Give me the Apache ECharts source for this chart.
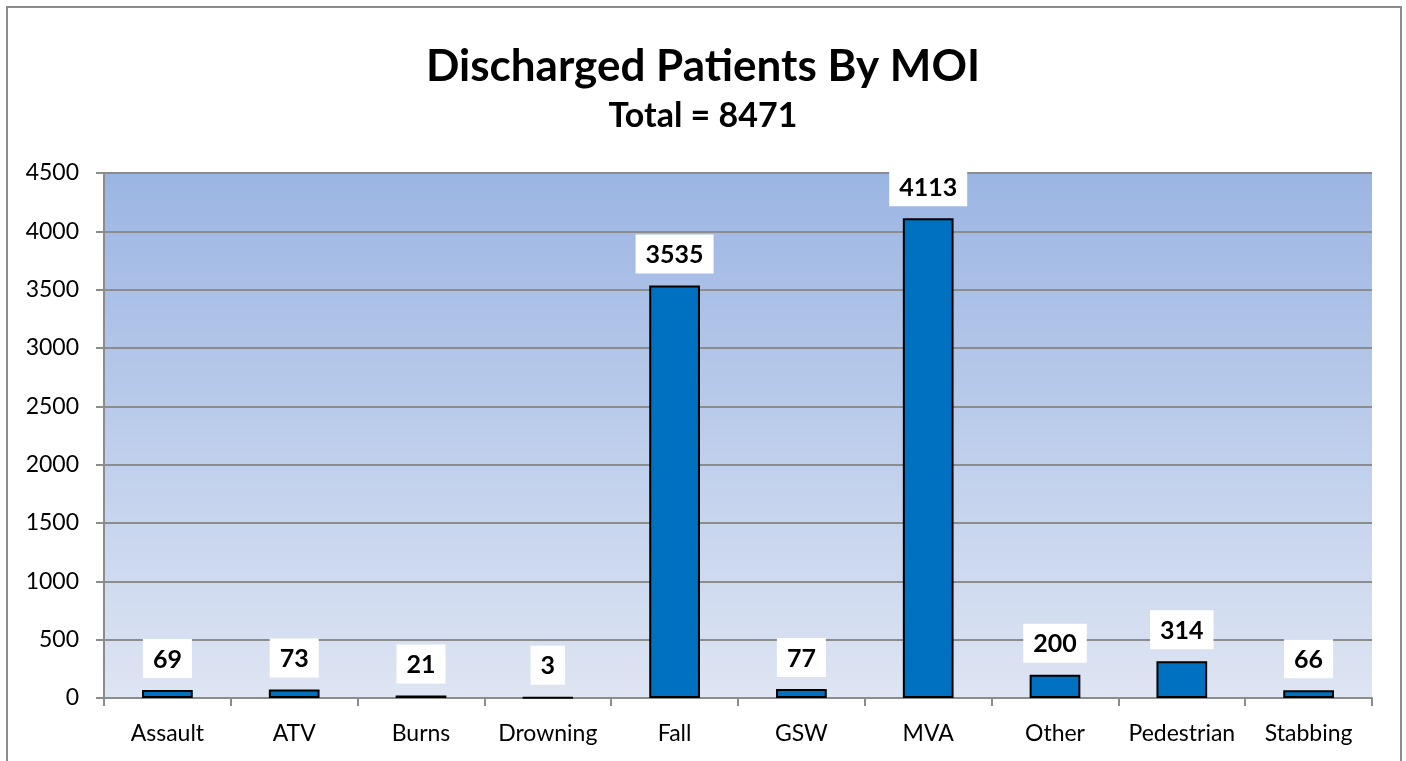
<!DOCTYPE html>
<html>
<head>
<meta charset="utf-8">
<script src="https://cdn.jsdelivr.net/npm/echarts@6/dist/echarts.min.js"></script>
<style>
  html, body { margin: 0; padding: 0; background: #fff; }
  #frame { position: absolute; left: 6px; top: 6px; width: 1396px; height: 760px;
           border: 2px solid #8c8c8c; border-bottom: none; box-sizing: border-box; }
  #chart { width: 1406px; height: 761px; }
</style>
</head>
<body>
<div id="frame"></div>
<div id="chart"></div>
<script>
const categories = ['Assault', 'ATV', 'Burns', 'Drowning', 'Fall', 'GSW', 'MVA', 'Other', 'Pedestrian', 'Stabbing'];
const patients = [69, 73, 21, 3, 3535, 77, 4113, 200, 314, 66];
const total = 8471;

let chartDom = document.getElementById('chart');
let myChart = echarts.init(chartDom);

let option = {
    animation: false,
    textStyle: {fontFamily: 'Lato'},
    title: {
        text: 'Discharged Patients By MOI',
        subtext: 'Total = ' + total,
        left: 'center',
        top: 40,
        itemGap: 10,
        textStyle: {fontSize: 44, fontWeight: 'bold', color: '#000', fontFamily: 'Lato'},
        subtextStyle: {fontSize: 34, fontWeight: 'bold', color: '#000', fontFamily: 'Lato'}
    },
    grid: {
        left: 104, right: 34, top: 173, bottom: 63,
        show: true,
        borderWidth: 0,
        backgroundColor: new echarts.graphic.LinearGradient(0, 0, 0, 1, [
            {offset: 0, color: '#9bb5e3'},
            {offset: 1, color: '#dee5f3'}
        ])
    },
    xAxis: {
        type: 'category',
        data: categories,
        axisLine: {lineStyle: {color: '#8c8c8c', width: 2}},
        axisTick: {show: true, length: 8, lineStyle: {color: '#8c8c8c', width: 2}},
        axisLabel: {fontSize: 23, color: '#000', margin: 24, interval: 0}
    },
    yAxis: {
        type: 'value',
        min: 0,
        max: 4500,
        interval: 500,
        axisLine: {show: true, lineStyle: {color: '#8c8c8c', width: 2}},
        axisTick: {show: true, length: 8, lineStyle: {color: '#8c8c8c', width: 2}},
        axisLabel: {fontSize: 23, color: '#000', margin: 25, formatter: (v) => String(v)},
        splitLine: {lineStyle: {color: '#8c8c8c', width: 2}}
    },
    series: [
        {
            type: 'bar',
            data: patients,
            barWidth: '40%',
            itemStyle: {color: '#0070c0', borderColor: '#000', borderWidth: 2},
            label: {
                show: true,
                position: 'top',
                distance: 12,
                fontSize: 25,
                fontWeight: 'bold',
                color: '#000',
                backgroundColor: '#fff',
                padding: [8, 10, 6, 10]
            }
        }
    ]
};
myChart.setOption(option);

window.addEventListener('resize', () => {
    myChart.resize()
})
</script>
</body>
</html>
